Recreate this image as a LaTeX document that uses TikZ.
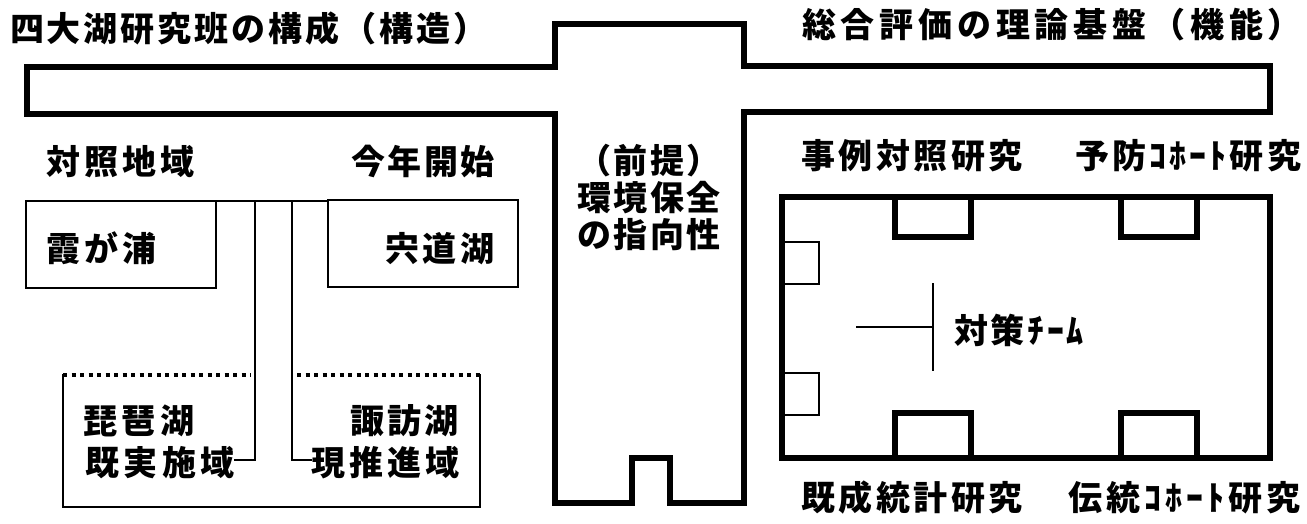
\documentclass[tikz,border=0pt]{standalone}
\usepackage{fontspec}
\setmainfont{Noto Sans CJK JP}
\let\sptokend\relax
\def\sptok#1{\ifx\sptokend#1\else\hfil#1\expandafter\sptok\fi}
\def\sptokfirst#1{#1\sptok}
\newcommand\spread[2]{\makebox[#1][s]{\sptokfirst#2\sptokend}}
\tikzset{
  thickline/.style={line width=5.5pt, line join=miter, line cap=rect},
  thinline/.style={line width=2pt, line join=miter, line cap=rect},
  dotline/.style={line width=4.5pt, dash pattern=on 4pt off 4.5pt},
  txt/.style={inner sep=0pt, outer sep=0pt, font=\bfseries\fontsize{34}{34}\selectfont, anchor=base west},
  ctxt/.style={txt, anchor=base}
}
\begin{document}
\begin{tikzpicture}[x=1pt,y=-1pt]
\useasboundingbox (0,0) rectangle (1307,523);
% titles
\node[txt] (t1) at (10,41) {\spread{478pt}{四大湖研究班の構成（構造）}};
\node[txt] (t2) at (802,37) {\spread{500pt}{総合評価の理論基盤（機能）}};
% big T outline
\draw[thickline] (27,67) -- (555,67) -- (555,24) -- (744,24) -- (744,66) -- (1270,66)
  -- (1270,112) -- (744,112) -- (744,503) -- (670,503) -- (670,458) -- (632,458)
  -- (632,503) -- (555,503) -- (555,114) -- (27,114) -- cycle;
% column text
\node[ctxt] (c1) at (649,173) {\spread{144pt}{（前提）}};
\node[ctxt] (c2) at (649,210) {\spread{144pt}{環境保全}};
\node[ctxt] (c3) at (649,247) {\spread{144pt}{の指向性}};
% left block
\node[txt] (l1) at (46,174) {\spread{149pt}{対照地域}};
\node[txt] (l2) at (351,174) {\spread{144pt}{今年開始}};
\draw[thinline] (26,201) rectangle (216,288);
\draw[thinline] (328,200) rectangle (518,287);
\node[txt] (kasumi) at (46,261) {\spread{111pt}{霞が浦}};
\node[txt] (shinji) at (385,261) {\spread{110pt}{宍道湖}};
\draw[thinline] (216,201) -- (328,201);
\coordinate (colL) at (255,201);
\coordinate (colR) at (292,201);
\node[txt] (biwa) at (83,433) {\spread{112pt}{琵琶湖}};
\node[txt] (kijitsu) at (85,475) {\spread{150pt}{既実施域}};
\node[txt] (suwa) at (350,433) {\spread{109pt}{諏訪湖}};
\node[txt] (gensui) at (311,475) {\spread{149pt}{現推進域}};
\draw[thinline] (kijitsu.east |- 0,460) -- (colL |- 0,460) -- (colL);
\draw[thinline] (gensui.west |- 0,460) -- (colR |- 0,460) -- (colR);
\draw[thinline] (63,375) -- (63,507) -- (480,507) -- (480,375);
\draw[dotline] (63,375) -- (251,375);
\draw[dotline] (297,375) -- (480,375);
% right block
\node[txt] (r1) at (801,168) {\spread{222pt}{事例対照研究}};
\node[txt] (r2) at (1075,168) {\spread{226pt}{予防ｺﾎｰﾄ研究}};
\node[txt] (r3) at (801,510) {\spread{222pt}{既成統計研究}};
\node[txt] (r4) at (1068,510) {\spread{233pt}{伝統ｺﾎｰﾄ研究}};
\draw[thickline] (782,197) rectangle (1270,458);
\draw[thickline] (895,197) -- (895,237) -- (971,237) -- (971,197);
\draw[thickline] (1121,197) -- (1121,237) -- (1197,237) -- (1197,197);
\draw[thickline] (895,458) -- (895,413) -- (971,413) -- (971,458);
\draw[thickline] (1121,458) -- (1121,413) -- (1197,413) -- (1197,458);
\draw[thinline] (782,242) -- (819,242) -- (819,284) -- (782,284);
\draw[thinline] (782,373) -- (819,373) -- (819,415) -- (782,415);
\node[txt] (team) at (954,343) {\spread{130pt}{対策ﾁｰﾑ}};
\coordinate (teamL) at (857,327);
\coordinate (teamT) at (933,284);
\coordinate (teamB) at (933,370);
\draw[thinline] (teamL) -- (teamL -| teamT);
\draw[thinline] (teamT) -- (teamB);
\end{tikzpicture}
\end{document}
